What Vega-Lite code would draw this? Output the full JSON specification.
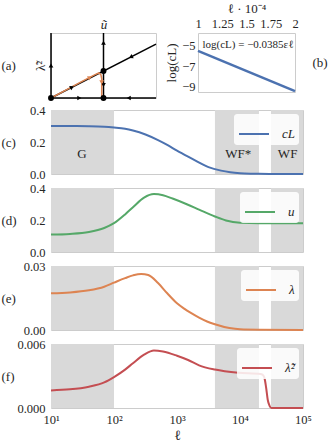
{
  "$schema": "https://vega.github.io/schema/vega-lite/v6.json",
  "background": "white",
  "padding": {"left": 0, "top": 1, "right": 2, "bottom": 2},
  "spacing": 1,
  "resolve": {"scale": {"color": "independent"}},
  "datasets": {
    "spans": [{"l": 10, "l2": 100}, {"l": 4000, "l2": 20000}, {"l": 31000, "l2": 100000}],
    "regions": [{"l": 31, "label": "G"}, {"l": 9400, "label": "WF*"}, {"l": 57000, "label": "WF"}],
    "cL": [
      {"l": 10, "val": 0.300}, {"l": 20, "val": 0.300}, {"l": 40, "val": 0.299}, {"l": 70, "val": 0.296},
      {"l": 100, "val": 0.291}, {"l": 150, "val": 0.283}, {"l": 200, "val": 0.272}, {"l": 316, "val": 0.247},
      {"l": 500, "val": 0.212}, {"l": 700, "val": 0.182}, {"l": 1000, "val": 0.146}, {"l": 1500, "val": 0.108},
      {"l": 2000, "val": 0.082}, {"l": 3162, "val": 0.043}, {"l": 5000, "val": 0.021}, {"l": 7000, "val": 0.011},
      {"l": 10000, "val": 0.005}, {"l": 15000, "val": 0.002}, {"l": 20000, "val": 0.001}, {"l": 40000, "val": 0.0003},
      {"l": 100000, "val": 0.0}
    ],
    "u": [
      {"l": 10, "val": 0.109}, {"l": 20, "val": 0.113}, {"l": 40, "val": 0.125}, {"l": 70, "val": 0.150},
      {"l": 100, "val": 0.180}, {"l": 150, "val": 0.235}, {"l": 200, "val": 0.280}, {"l": 300, "val": 0.340},
      {"l": 430, "val": 0.362}, {"l": 600, "val": 0.355}, {"l": 850, "val": 0.334}, {"l": 1400, "val": 0.300},
      {"l": 2240, "val": 0.265}, {"l": 4000, "val": 0.222}, {"l": 6000, "val": 0.197}, {"l": 10000, "val": 0.183},
      {"l": 20000, "val": 0.180}, {"l": 100000, "val": 0.180}
    ],
    "lam": [
      {"l": 10, "val": 0.0172}, {"l": 20, "val": 0.0176}, {"l": 40, "val": 0.0186}, {"l": 70, "val": 0.0203},
      {"l": 100, "val": 0.0222}, {"l": 150, "val": 0.0243}, {"l": 200, "val": 0.0256}, {"l": 270, "val": 0.0263},
      {"l": 350, "val": 0.0258}, {"l": 500, "val": 0.0220}, {"l": 700, "val": 0.0172}, {"l": 1000, "val": 0.0125},
      {"l": 1300, "val": 0.0100}, {"l": 1660, "val": 0.0080}, {"l": 2240, "val": 0.0058}, {"l": 3000, "val": 0.0040},
      {"l": 4000, "val": 0.0027}, {"l": 6800, "val": 0.0009},
      {"l": 10000, "val": 0.0003}, {"l": 20000, "val": 0.0001}, {"l": 100000, "val": 0.0}
    ],
    "lt2": [
      {"l": 10, "val": 0.00165}, {"l": 20, "val": 0.00175}, {"l": 40, "val": 0.0020}, {"l": 70, "val": 0.0024},
      {"l": 100, "val": 0.0029}, {"l": 150, "val": 0.0036}, {"l": 200, "val": 0.0042}, {"l": 300, "val": 0.0050},
      {"l": 430, "val": 0.0054}, {"l": 600, "val": 0.0053}, {"l": 1000, "val": 0.0049}, {"l": 1500, "val": 0.0045},
      {"l": 2240, "val": 0.0040}, {"l": 4000, "val": 0.0036}, {"l": 9400, "val": 0.0033}, {"l": 21000, "val": 0.00318},
      {"l": 23000, "val": 0.0031}, {"l": 24500, "val": 0.0028}, {"l": 26000, "val": 0.0019}, {"l": 27500, "val": 0.0008},
      {"l": 29500, "val": 0.0002}, {"l": 31500, "val": 0.0}, {"l": 100000, "val": 0.0}
    ],
    "aLines": [
      {"seg": "L", "i": 0, "x": 0, "y": 0}, {"seg": "L", "i": 1, "x": 0, "y": 1},
      {"seg": "M", "i": 0, "x": 0.5, "y": 0}, {"seg": "M", "i": 1, "x": 0.5, "y": 1},
      {"seg": "B", "i": 0, "x": 0, "y": 0}, {"seg": "B", "i": 1, "x": 1, "y": 0},
      {"seg": "D", "i": 0, "x": 0, "y": 0}, {"seg": "D", "i": 1, "x": 1, "y": 0.83}
    ],
    "aTraj": [
      {"i": 0, "x": 0, "y": 0}, {"i": 1, "x": 0.15, "y": 0.13}, {"i": 2, "x": 0.3, "y": 0.26},
      {"i": 3, "x": 0.42, "y": 0.36}, {"i": 4, "x": 0.455, "y": 0.385}, {"i": 5, "x": 0.475, "y": 0.36},
      {"i": 6, "x": 0.483, "y": 0.3}, {"i": 7, "x": 0.483, "y": 0.15}, {"i": 8, "x": 0.483, "y": 0}
    ],
    "aPoints": [{"x": 0, "y": 0}, {"x": 0.5, "y": 0}, {"x": 0.5, "y": 0.415}],
    "aArrows": [
      {"x": 0, "y": 0.5, "dir": "up", "col": "k"},
      {"x": 0.5, "y": 0.85, "dir": "up", "col": "k"},
      {"x": 0.5, "y": 0.2, "dir": "down", "col": "k"},
      {"x": 0.27, "y": 0, "dir": "right", "col": "k"},
      {"x": 0.74, "y": 0, "dir": "left", "col": "k"},
      {"x": 0.2, "y": 0.166, "dir": "upright", "col": "k"},
      {"x": 0.76, "y": 0.63, "dir": "downleft", "col": "k"},
      {"x": 0.37, "y": 0.315, "dir": "upright", "col": "o"},
      {"x": 0.483, "y": 0.24, "dir": "down", "col": "o"}
    ],
    "bLine": [{"l": 1, "val": -5.52}, {"l": 2, "val": -9.42}],
    "bText": [{"l": 1.515, "val": -4.95, "label": "log(cL) = −0.0385εℓ"}]
  },
  "vconcat": [
    {
      "bounds": "flush",
      "spacing": 42,
      "hconcat": [
        {
          "width": 105,
          "height": 65,
          "layer": [
            {
              "data": {"name": "aLines"},
              "mark": {"type": "line", "color": "black", "strokeWidth": 1.5},
              "encoding": {
                "x": {"field": "x", "type": "quantitative", "scale": {"domain": [0, 1], "nice": false}, "axis": {"orient": "top", "labels": false, "title": "ũ", "titleFontStyle": "italic", "titleFontSize": 13, "titlePadding": 2}},
                "y": {"field": "y", "type": "quantitative", "scale": {"domain": [0, 1], "nice": false},
                  "axis": {"values": [0.5], "labelExpr": "'λ̃²'", "labelAngle": 270, "labelAlign": "center", "labelBaseline": "bottom", "labelFontSize": 13, "labelPadding": 4,
                    "title": "(a)", "titleAngle": 0, "titleAlign": "left", "titleBaseline": "middle", "titleX": -50, "titleY": 32.5}},
                "detail": {"field": "seg"},
                "order": {"field": "i"}
              }
            },
            {
              "data": {"name": "aTraj"},
              "mark": {"type": "line", "color": "#dd8452", "strokeWidth": 1.5},
              "encoding": {"x": {"field": "x", "type": "quantitative"}, "y": {"field": "y", "type": "quantitative"}, "order": {"field": "i"}}
            },
            {
              "data": {"name": "aPoints"},
              "mark": {"type": "point", "filled": true, "color": "black", "size": 35, "opacity": 1},
              "encoding": {"x": {"field": "x", "type": "quantitative"}, "y": {"field": "y", "type": "quantitative"}}
            },
            {
              "data": {"name": "aArrows"},
              "transform": [{"filter": "datum.dir == 'up' && datum.col == 'k'"}],
              "mark": {"type": "point", "shape": "triangle-up", "filled": true, "size": 22, "opacity": 1, "color": "black", "angle": 0},
              "encoding": {"x": {"field": "x", "type": "quantitative"}, "y": {"field": "y", "type": "quantitative"}}
            },
            {
              "data": {"name": "aArrows"},
              "transform": [{"filter": "datum.dir == 'down' && datum.col == 'k'"}],
              "mark": {"type": "point", "shape": "triangle-up", "filled": true, "size": 22, "opacity": 1, "color": "black", "angle": 180},
              "encoding": {"x": {"field": "x", "type": "quantitative"}, "y": {"field": "y", "type": "quantitative"}}
            },
            {
              "data": {"name": "aArrows"},
              "transform": [{"filter": "datum.dir == 'right' && datum.col == 'k'"}],
              "mark": {"type": "point", "shape": "triangle-up", "filled": true, "size": 22, "opacity": 1, "color": "black", "angle": 90},
              "encoding": {"x": {"field": "x", "type": "quantitative"}, "y": {"field": "y", "type": "quantitative"}}
            },
            {
              "data": {"name": "aArrows"},
              "transform": [{"filter": "datum.dir == 'left' && datum.col == 'k'"}],
              "mark": {"type": "point", "shape": "triangle-up", "filled": true, "size": 22, "opacity": 1, "color": "black", "angle": 270},
              "encoding": {"x": {"field": "x", "type": "quantitative"}, "y": {"field": "y", "type": "quantitative"}}
            },
            {
              "data": {"name": "aArrows"},
              "transform": [{"filter": "datum.dir == 'upright' && datum.col == 'k'"}],
              "mark": {"type": "point", "shape": "triangle-up", "filled": true, "size": 22, "opacity": 1, "color": "black", "angle": 63},
              "encoding": {"x": {"field": "x", "type": "quantitative"}, "y": {"field": "y", "type": "quantitative"}}
            },
            {
              "data": {"name": "aArrows"},
              "transform": [{"filter": "datum.dir == 'downleft' && datum.col == 'k'"}],
              "mark": {"type": "point", "shape": "triangle-up", "filled": true, "size": 22, "opacity": 1, "color": "black", "angle": 243},
              "encoding": {"x": {"field": "x", "type": "quantitative"}, "y": {"field": "y", "type": "quantitative"}}
            },
            {
              "data": {"name": "aArrows"},
              "transform": [{"filter": "datum.dir == 'upright' && datum.col == 'o'"}],
              "mark": {"type": "point", "shape": "triangle-up", "filled": true, "size": 22, "opacity": 1, "color": "#dd8452", "angle": 63},
              "encoding": {"x": {"field": "x", "type": "quantitative"}, "y": {"field": "y", "type": "quantitative"}}
            },
            {
              "data": {"name": "aArrows"},
              "transform": [{"filter": "datum.dir == 'down' && datum.col == 'o'"}],
              "mark": {"type": "point", "shape": "triangle-up", "filled": true, "size": 22, "opacity": 1, "color": "#dd8452", "angle": 180},
              "encoding": {"x": {"field": "x", "type": "quantitative"}, "y": {"field": "y", "type": "quantitative"}}
            }
          ]
        },
        {
          "width": 97,
          "height": 59,
          "resolve": {"scale": {"y": "independent"}},
          "layer": [
            {
              "data": {"name": "bLine"},
              "mark": {"type": "line", "color": "#4c72b0", "strokeWidth": 2.5},
              "encoding": {
                "x": {"field": "l", "type": "quantitative", "scale": {"domain": [1, 2], "nice": false},
                  "axis": {"orient": "top", "values": [1, 1.25, 1.5, 1.75, 2], "labelExpr": "datum.value + ''", "labelFlush": false, "labelOverlap": false, "title": "ℓ · 10⁻⁴", "titlePadding": 2, "labelPadding": 3}},
                "y": {"field": "val", "type": "quantitative", "scale": {"domain": [-9.5, -3.8], "nice": false},
                  "axis": {"values": [-5, -7, -9], "title": "log(cL)", "titlePadding": 3, "labelPadding": 3}}
              }
            },
            {
              "data": {"name": "bText"},
              "mark": {"type": "text", "fontSize": 11, "color": "#262626"},
              "encoding": {
                "x": {"field": "l", "type": "quantitative",
                  "axis": {"orient": "top", "values": [1, 1.25, 1.5, 1.75, 2], "labelExpr": "datum.value + ''", "labelFlush": false, "labelOverlap": false, "title": "ℓ · 10⁻⁴", "titlePadding": 2, "labelPadding": 3}},
                "y": {"field": "val", "type": "quantitative", "scale": {"domain": [-9.5, -3.8], "nice": false},
                  "axis": {"orient": "right", "labels": false, "values": [], "title": "(b)", "titleAngle": 0, "titleAlign": "left", "titleBaseline": "middle", "titleX": 17, "titleY": 29.5}},
                "text": {"field": "label"}
              }
            }
          ]
        }
      ]
    },
    {
      "spacing": 0,
      "resolve": {"scale": {"color": "independent"}},
      "vconcat": [
        {
          "width": 252,
          "height": 64,
          "layer": [
            {
              "data": {"name": "spans"},
              "mark": {"type": "rect", "color": "#d9d9d9"},
              "encoding": {"x": {"field": "l", "type": "quantitative", "scale": {"type": "log", "domain": [10, 100000], "nice": false}, "axis": null}, "x2": {"field": "l2"}}
            },
            {
              "data": {"name": "cL"},
              "mark": {"type": "line", "strokeWidth": 2, "interpolate": "monotone"},
              "encoding": {
                "x": {"field": "l", "type": "quantitative"},
                "y": {"field": "val", "type": "quantitative", "scale": {"domain": [0, 0.4], "nice": false},
                  "axis": {"values": [0, 0.2, 0.4], "format": ".1f", "labelOverlap": false, "title": "(c)", "titleAngle": 0, "titleAlign": "left", "titleBaseline": "middle", "titleX": -50, "titleY": 32}},
                "color": {"datum": "cL", "scale": {"range": ["#4c72b0"]}, "legend": {"title": null}}
              }
            },
            {
              "data": {"name": "regions"},
              "mark": {"type": "text", "fontSize": 13, "color": "#262626"},
              "encoding": {
                "x": {"field": "l", "type": "quantitative"},
                "y": {"datum": 0.123, "type": "quantitative",
                  "axis": {"values": [0, 0.2, 0.4], "format": ".1f", "labelOverlap": false, "title": "(c)", "titleAngle": 0, "titleAlign": "left", "titleBaseline": "middle", "titleX": -50, "titleY": 32}},
                "text": {"field": "label"}
              }
            }
          ]
        },
        {
          "width": 252,
          "height": 64,
          "layer": [
            {
              "data": {"name": "spans"},
              "mark": {"type": "rect", "color": "#d9d9d9"},
              "encoding": {"x": {"field": "l", "type": "quantitative", "scale": {"type": "log", "domain": [10, 100000], "nice": false}, "axis": null}, "x2": {"field": "l2"}}
            },
            {
              "data": {"name": "u"},
              "mark": {"type": "line", "strokeWidth": 2, "interpolate": "monotone"},
              "encoding": {
                "x": {"field": "l", "type": "quantitative"},
                "y": {"field": "val", "type": "quantitative", "scale": {"domain": [0, 0.4], "nice": false},
                  "axis": {"values": [0, 0.2, 0.4], "format": ".1f", "labelOverlap": false, "title": "(d)", "titleAngle": 0, "titleAlign": "left", "titleBaseline": "middle", "titleX": -50, "titleY": 32}},
                "color": {"datum": "u", "scale": {"range": ["#55a868"]}, "legend": {"title": null}}
              }
            }
          ]
        },
        {
          "width": 252,
          "height": 64,
          "layer": [
            {
              "data": {"name": "spans"},
              "mark": {"type": "rect", "color": "#d9d9d9"},
              "encoding": {"x": {"field": "l", "type": "quantitative", "scale": {"type": "log", "domain": [10, 100000], "nice": false}, "axis": null}, "x2": {"field": "l2"}}
            },
            {
              "data": {"name": "lam"},
              "mark": {"type": "line", "strokeWidth": 2, "interpolate": "monotone"},
              "encoding": {
                "x": {"field": "l", "type": "quantitative"},
                "y": {"field": "val", "type": "quantitative", "scale": {"domain": [0, 0.03], "nice": false},
                  "axis": {"values": [0, 0.03], "format": ".2f", "labelOverlap": false, "title": "(e)", "titleAngle": 0, "titleAlign": "left", "titleBaseline": "middle", "titleX": -50, "titleY": 32}},
                "color": {"datum": "λ", "scale": {"range": ["#dd8452"]}, "legend": {"title": null}}
              }
            }
          ]
        },
        {
          "width": 252,
          "height": 64,
          "layer": [
            {
              "data": {"name": "spans"},
              "mark": {"type": "rect", "color": "#d9d9d9"},
              "encoding": {"x": {"field": "l", "type": "quantitative", "scale": {"type": "log", "domain": [10, 100000], "nice": false},
                "axis": {"values": [10, 100, 1000, 10000, 100000], "labelExpr": "'10' + ['⁰','¹','²','³','⁴','⁵'][round(log(datum.value) / LN10)]", "labelFlush": false, "labelOverlap": false, "title": "ℓ", "titleFontSize": 14, "titlePadding": 3, "labelPadding": 5}},
                "x2": {"field": "l2"}}
            },
            {
              "data": {"name": "lt2"},
              "mark": {"type": "line", "strokeWidth": 2, "interpolate": "monotone"},
              "encoding": {
                "x": {"field": "l", "type": "quantitative"},
                "y": {"field": "val", "type": "quantitative", "scale": {"domain": [0, 0.006], "nice": false},
                  "axis": {"values": [0, 0.006], "format": ".3f", "labelOverlap": false, "title": "(f)", "titleAngle": 0, "titleAlign": "left", "titleBaseline": "middle", "titleX": -50, "titleY": 32}},
                "color": {"datum": "λ̃²", "scale": {"range": ["#c44e52"]}, "legend": {"title": null}}
              }
            }
          ]
        }
      ]
    }
  ],
  "config": {
    "font": "Liberation Serif",
    "view": {"stroke": "#cccccc", "strokeWidth": 1},
    "axis": {
      "grid": false, "ticks": false, "domain": false,
      "labelFont": "Liberation Serif", "labelFontSize": 12.5, "labelColor": "#262626", "labelPadding": 6,
      "titleFont": "Liberation Serif", "titleFontWeight": "normal", "titleColor": "#262626", "titleFontSize": 13
    },
    "legend": {
      "orient": "top-right", "offset": 4, "padding": 4,
      "fillColor": "rgba(255,255,255,0.85)", "cornerRadius": 3,
      "symbolType": "stroke", "symbolSize": 900, "symbolStrokeWidth": 2,
      "labelFont": "Liberation Serif", "labelFontSize": 13, "labelFontStyle": "italic", "labelColor": "#262626", "labelOffset": 12
    },
    "title": {"font": "Liberation Serif", "fontWeight": "normal", "fontSize": 13, "color": "#262626"},
    "text": {"font": "Liberation Serif"}
  }
}
